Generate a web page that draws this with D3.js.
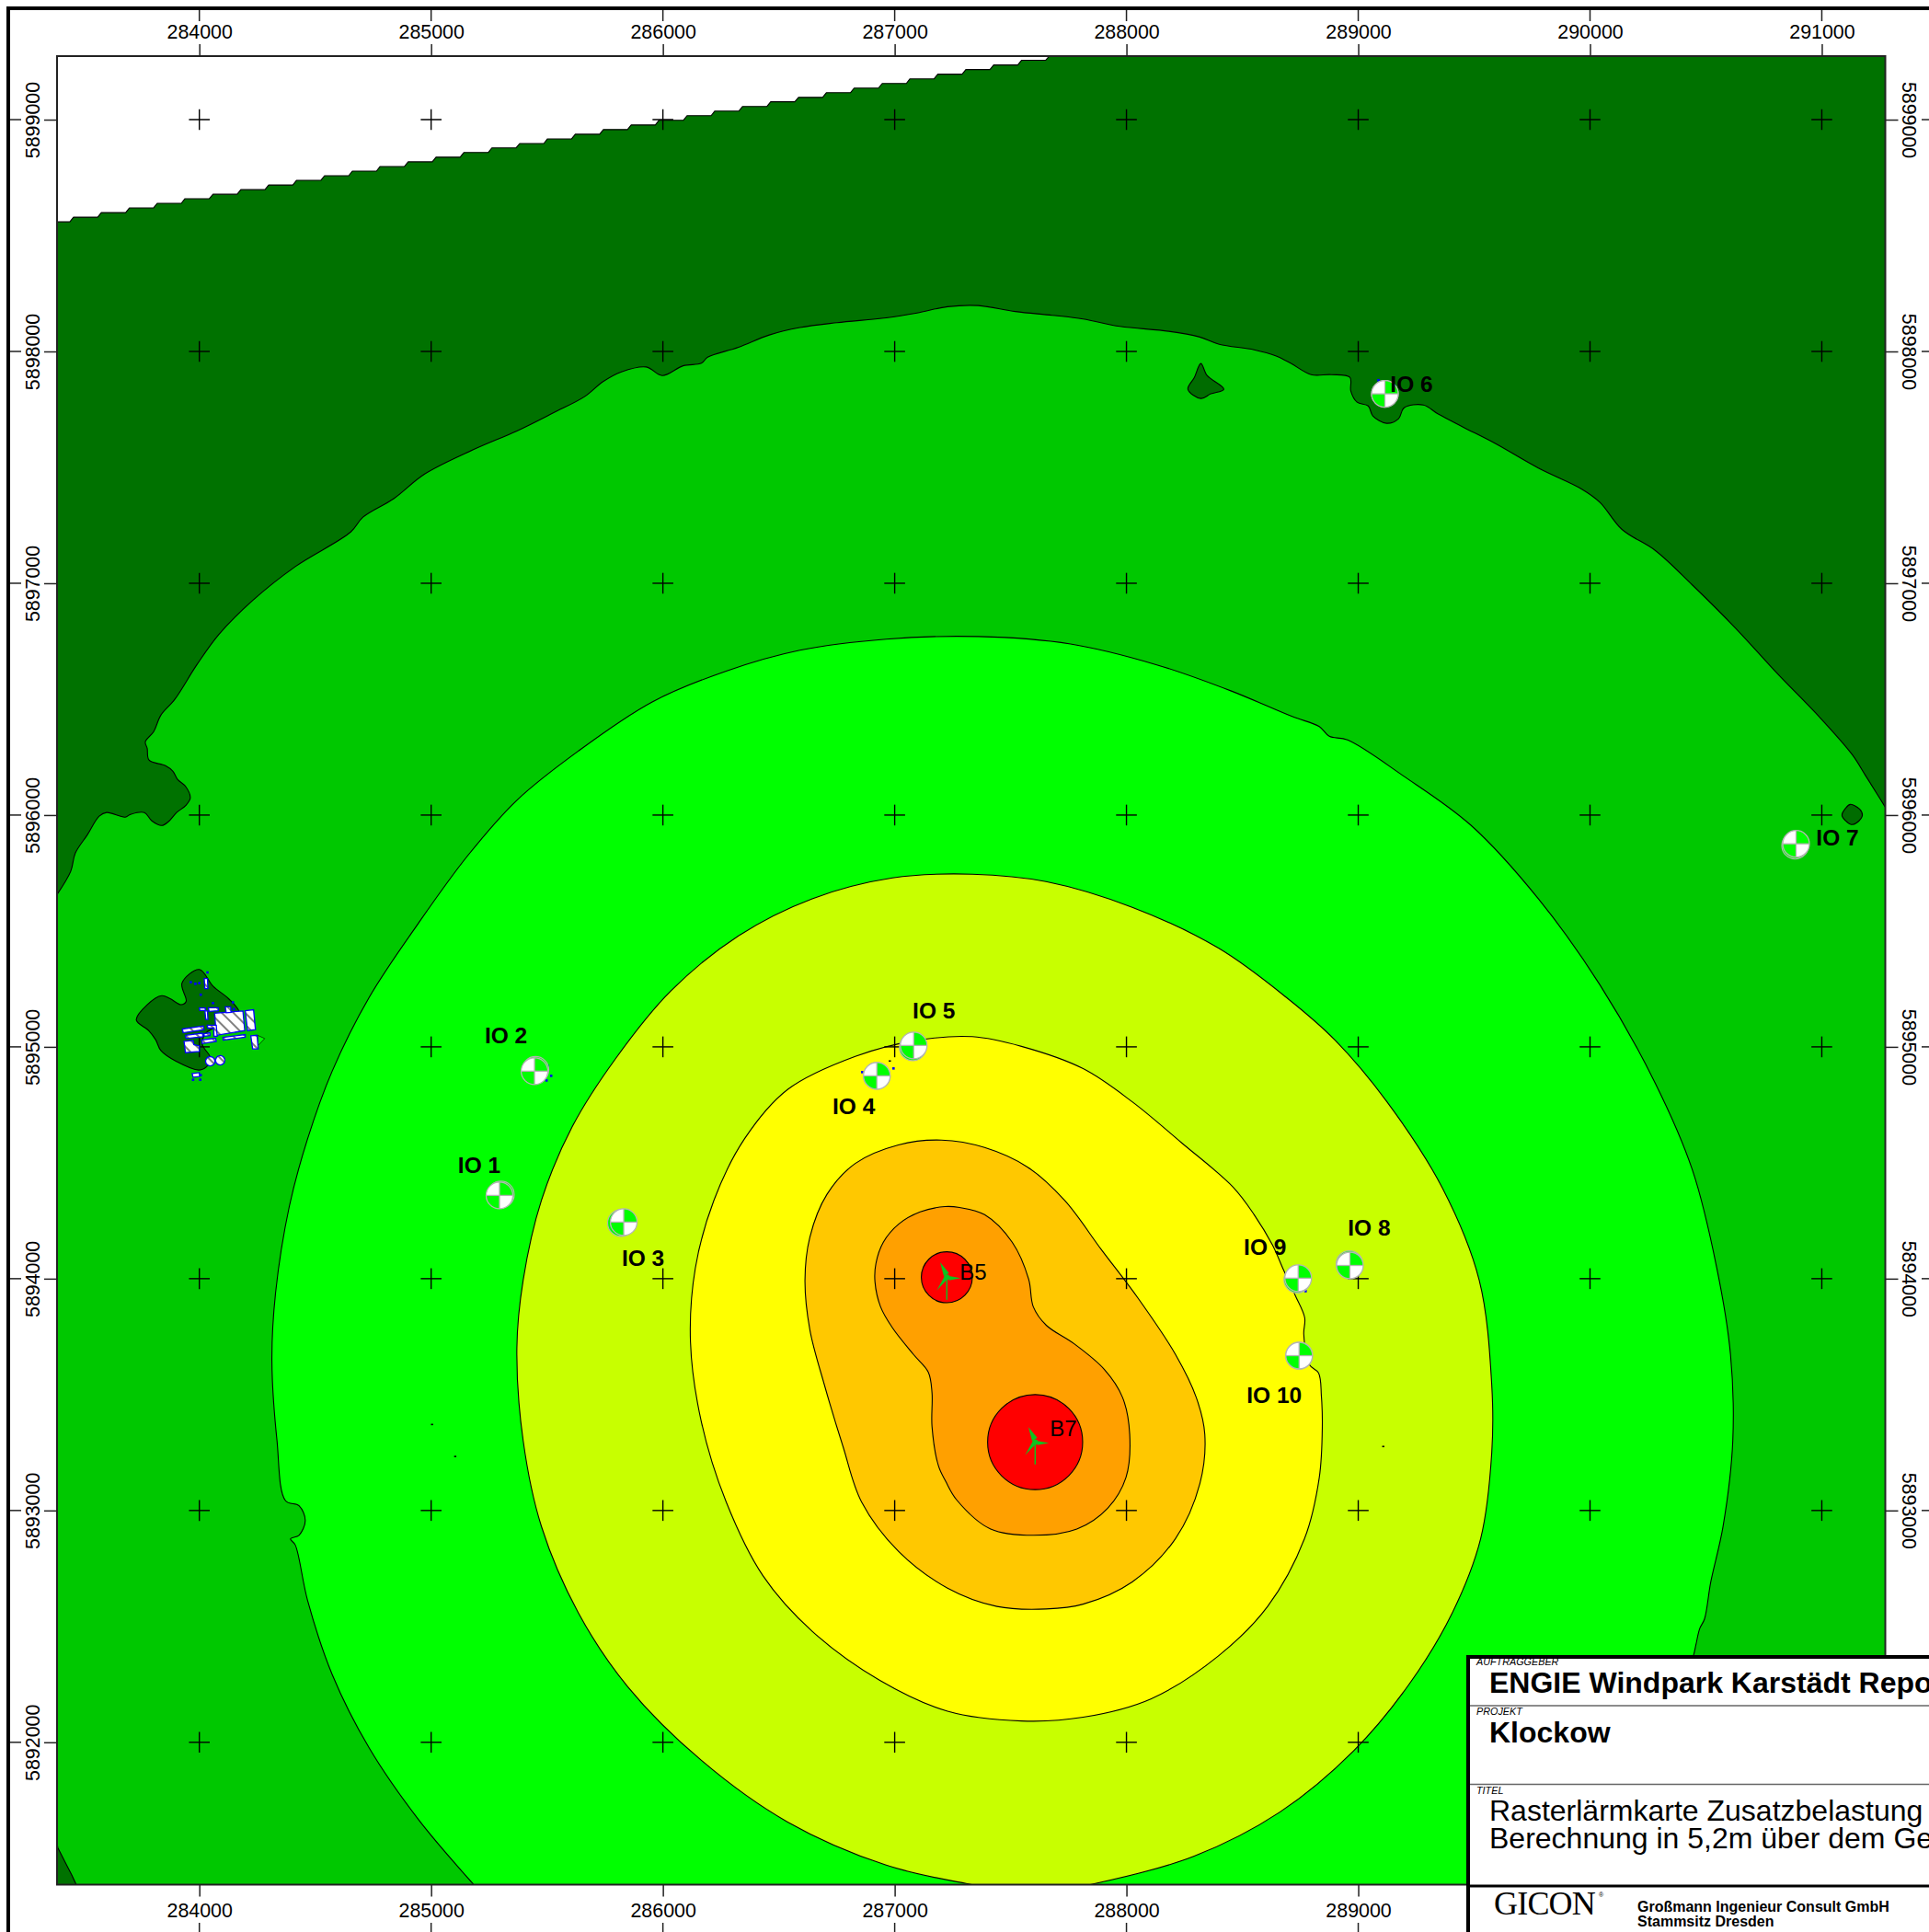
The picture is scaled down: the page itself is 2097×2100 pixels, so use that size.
<!DOCTYPE html>
<html><head><meta charset="utf-8">
<script src="https://cdn.jsdelivr.net/npm/d3@7"></script>
<style>html,body{margin:0;padding:0;background:#fff;overflow:hidden}svg{display:block}text{font-family:"Liberation Sans",Arial,sans-serif;fill:#000}</style>
</head><body><div id="c"></div>
<script>
// Map extent and tick values (metres, UTM)
const eastingExtent=[283386,291274];
const northingExtent=[5899274,5891386];
const eastingTicks=[284000,285000,286000,287000,288000,289000,290000,291000];
const northingTicks=[5892000,5893000,5894000,5895000,5896000,5897000,5898000,5899000];
const bottomEastingTicks=[284000,285000,286000,287000,288000,289000];
const rightNorthingTicks=[5893000,5894000,5895000,5896000,5897000,5898000,5899000];
const bandColors={outer:"#007200",patch:"#006c00",c1:"#00c800",c2:"#00ff00",c3:"#c8ff00",c4:"#ffff00",c5:"#ffc800",c6:"#ffa000",c7:"#ff0000"};

// Stair-stepped edge of the calculated area: start of each step
const calcEdgeSteps=[[283386,5898559],[283457,5898579],[283577,5898599],[283698,5898619],[283818,5898639],[283938,5898659],[284059,5898678],[284179,5898698],[284299,5898718],[284419,5898738],[284540,5898758],[284660,5898778],[284780,5898798],[284901,5898818],[285021,5898838],[285141,5898858],[285262,5898878],[285382,5898897],[285502,5898917],[285622,5898937],[285743,5898957],[285863,5898977],[285983,5898997],[286104,5899017],[286224,5899037],[286344,5899057],[286465,5899077],[286585,5899096],[286705,5899116],[286825,5899136],[286946,5899156],[287066,5899176],[287186,5899196],[287307,5899216],[287427,5899236],[287547,5899256],[287667,5899274]];

// Isophone contours
const contour1=[[283386,5895657],[283445,5895757],[283465,5895836],[283517,5895915],[283568,5895995],[283600,5896011],[283680,5895991],[283703,5896003],[283763,5896011],[283795,5895975],[283838,5895955],[283866,5895971],[283902,5896011],[283942,5896042],[283961,5896074],[283942,5896122],[283906,5896154],[283886,5896189],[283854,5896213],[283783,5896237],[283775,5896288],[283767,5896316],[283803,5896360],[283834,5896431],[283894,5896499],[283989,5896648],[284085,5896780],[284228,5896924],[284414,5897072],[284653,5897221],[284706,5897285],[284839,5897365],[284972,5897471],[285184,5897577],[285370,5897657],[285529,5897736],[285662,5897805],[285742,5897870],[285821,5897912],[285928,5897933],[285997,5897896],[286087,5897938],[286166,5897949],[286193,5897975],[286326,5898018],[286459,5898071],[286591,5898103],[286751,5898124],[286963,5898145],[287096,5898166],[287228,5898193],[287361,5898198],[287521,5898172],[287680,5898156],[287813,5898140],[287972,5898108],[288182,5898087],[288313,5898063],[288400,5898031],[288551,5898007],[288646,5897980],[288710,5897948],[288797,5897900],[288884,5897900],[288964,5897888],[288968,5897829],[288995,5897781],[289043,5897765],[289063,5897722],[289122,5897690],[289174,5897710],[289198,5897757],[289281,5897769],[289345,5897730],[289452,5897674],[289591,5897603],[289777,5897497],[289963,5897407],[290043,5897349],[290138,5897232],[290282,5897141],[290441,5896993],[290627,5896807],[290813,5896605],[290988,5896425],[291131,5896261],[291187,5896173],[291239,5896090],[291274,5896034]];
const contour1Corner=[[283469,5891386],[283449,5891429],[283430,5891465],[283390,5891544],[283386,5891560]];
const contour2=[[285184,5891386],[284945,5891667],[284733,5891975],[284573,5892293],[284467,5892612],[284414,5892851],[284393,5892878],[284430,5892893],[284457,5892957],[284430,5893021],[284372,5893042],[284335,5893302],[284313,5893648],[284329,5893940],[284388,5894311],[284467,5894603],[284573,5894895],[284733,5895214],[284945,5895533],[285158,5895825],[285370,5896064],[285635,5896276],[285954,5896488],[286273,5896621],[286591,5896711],[286963,5896759],[287361,5896770],[287759,5896738],[288131,5896648],[288450,5896536],[288715,5896425],[288832,5896382],[288875,5896340],[288954,5896324],[289193,5896170],[289485,5895957],[289777,5895639],[290043,5895267],[290282,5894842],[290441,5894471],[290547,5894046],[290606,5893674],[290616,5893302],[290574,5892931],[290521,5892692],[290494,5892532],[290473,5892490],[290457,5892421],[290446,5892373],[290308,5891975],[289990,5891386]];
const contour3=[[285370,5893701],[285397,5893993],[285476,5894338],[285609,5894656],[285795,5894948],[286034,5895241],[286326,5895479],[286644,5895639],[286990,5895729],[287335,5895745],[287653,5895713],[288025,5895602],[288397,5895426],[288689,5895214],[288901,5895028],[289124,5894763],[289363,5894391],[289522,5893993],[289576,5893541],[289576,5893249],[289528,5892878],[289406,5892559],[289220,5892251],[288981,5891964],[288662,5891699],[288290,5891508],[287866,5891391],[287600,5891348],[287308,5891391],[286963,5891470],[286538,5891656],[286166,5891922],[285848,5892240],[285635,5892559],[285476,5892931],[285397,5893302]];
const contour4=[[286119,5893727],[286140,5894046],[286220,5894338],[286352,5894603],[286538,5894816],[286830,5894959],[287096,5895028],[287335,5895044],[287547,5895002],[287813,5894906],[288025,5894763],[288237,5894587],[288460,5894395],[288551,5894276],[288630,5894145],[288678,5894037],[288729,5893926],[288769,5893831],[288765,5893760],[288789,5893629],[288829,5893593],[288841,5893494],[288845,5893363],[288832,5893143],[288768,5892878],[288609,5892586],[288397,5892373],[288105,5892187],[287813,5892108],[287547,5892092],[287228,5892134],[286936,5892267],[286644,5892479],[286432,5892718],[286273,5893037],[286166,5893382]];
const contour5=[[286613,5893993],[286634,5894179],[286708,5894364],[286830,5894497],[287016,5894577],[287202,5894598],[287388,5894566],[287574,5894481],[287733,5894338],[287892,5894125],[288052,5893913],[288211,5893674],[288301,5893488],[288338,5893329],[288317,5893117],[288211,5892878],[288025,5892692],[287813,5892596],[287653,5892575],[287441,5892586],[287228,5892665],[287016,5892824],[286857,5893037],[286777,5893276],[286697,5893541],[286634,5893780]];
const contour6=[[287217,5894311],[287280,5894307],[287388,5894276],[287507,5894157],[287578,5893998],[287598,5893879],[287654,5893799],[287773,5893720],[287904,5893609],[287983,5893488],[288014,5893329],[287998,5893143],[287919,5893010],[287786,5892920],[287600,5892893],[287414,5892920],[287268,5893045],[287221,5893124],[287189,5893192],[287161,5893363],[287161,5893509],[287145,5893597],[287082,5893672],[286991,5893787],[286939,5893879],[286915,5893986],[286919,5894065],[286951,5894157],[287018,5894236],[287110,5894288]];
const darkPatchNorth=[[288321,5897948],[288348,5897896],[288420,5897837],[288364,5897817],[288321,5897797],[288265,5897837],[288293,5897888]];
const darkPatchEast=[[291123,5896046],[291163,5896026],[291175,5895999],[291151,5895967],[291127,5895959],[291103,5895975],[291087,5895999],[291103,5896030]];
const darkPatchVillage=[[284000,5895334],[284060,5895261],[284126,5895208],[284172,5895149],[284145,5895116],[284066,5895083],[284026,5895057],[284013,5895010],[284046,5894957],[284040,5894924],[284000,5894900],[283901,5894937],[283834,5894984],[283812,5895030],[283782,5895070],[283728,5895116],[283775,5895182],[283838,5895221],[283874,5895208],[283921,5895182],[283943,5895196],[283925,5895275]];

// Turbines
const turbineNames=["B5","B7"];
const turbineSites=[[287225,5894006],[287606,5893295]];
const peakRadiusMetres=[110,205];
// Receptors
const receptorNames=["IO 1","IO 2","IO 3","IO 4","IO 5","IO 6","IO 7","IO 8","IO 9","IO 10"];
const receptorSites=[[285295,5894359],[285446,5894895],[285831,5894244],[286923,5894875],[287082,5895006],[289115,5897817],[290889,5895876],[288964,5894057],[288741,5894002],[288745,5893668]];
// Buildings in the village
const buildings=[
[[284066,5895145],[284188,5895155],[284196,5895070],[284073,5895050]],
[[284198,5895156],[284234,5895160],[284242,5895074],[284208,5895070]],
[[283927,5895077],[284017,5895090],[284020,5895074],[283930,5895061]],
[[283940,5895050],[284013,5895059],[284016,5895044],[283943,5895036]],
[[283934,5895024],[283973,5895028],[283976,5895010],[284000,5895004],[284000,5894980],[283940,5894975]],
[[284010,5895030],[284070,5895037],[284073,5895024],[284013,5895014]],
[[284020,5895057],[284046,5895061],[284046,5895049],[284021,5895046]],
[[284102,5895041],[284198,5895053],[284198,5895042],[284103,5895029]],
[[284222,5895048],[284249,5895050],[284254,5894991],[284230,5894991]],
[[284021,5895295],[284035,5895295],[284037,5895251],[284024,5895251]],
[[284000,5895168],[284026,5895168],[284026,5895157],[284002,5895157]],
[[284039,5895169],[284082,5895169],[284082,5895156],[284042,5895153]],
[[284024,5895155],[284035,5895155],[284037,5895118],[284028,5895118]],
[[284112,5895173],[284135,5895173],[284137,5895149],[284116,5895147]],
[[283969,5894885],[284000,5894889],[284001,5894872],[283973,5894869]],
[[284034,5895093],[284073,5895093],[284077,5895046],[284063,5895046],[284062,5895081],[284037,5895081]]];
const silos=[[284047,5894938],[284090,5894942]];
const siloRadiusMetres=20;
const greenWedge=[[284251,5895050],[284282,5895036],[284254,5895007]];
const blueSpecks=[[283963,5895279],[283983,5895272],[284000,5895275],[284006,5895225],[284059,5895189],[284145,5895192],[284149,5895163],[283973,5894858],[284004,5894858],[284006,5894878],[284035,5895321],[285518,5894875],[285502,5894919],[285498,5894855],[286995,5894907],[286860,5894891],[288773,5893946],[289087,5897876]];
const blackSpecks=[[286979,5894939],[285004,5893371],[285104,5893233],[289108,5893276]];
// Label text
const boxCaptions=["AUFTRAGGEBER","PROJEKT","TITEL"];
const boxClient="ENGIE Windpark Karstädt Repo";
const boxProject="Klockow";
const boxTitle=["Rasterlärmkarte Zusatzbelastung","Berechnung in 5,2m über dem Ge"];
const boxCompany=["Großmann Ingenieur Consult GmbH","Stammsitz Dresden"];

const W=2097,H=2100;
const plot={l:62,t:61,r:2049.5,b:2048.5};
const x=d3.scaleLinear().domain(eastingExtent).range([plot.l,plot.r]);
const y=d3.scaleLinear().domain(northingExtent).range([plot.t,plot.b]);
const px=d=>[x(d[0]),y(d[1])];
const svg=d3.select("#c").append("svg").attr("width",W).attr("height",H).attr("viewBox",`0 0 ${W} ${H}`);
const defs=svg.append("defs");
defs.append("clipPath").attr("id","plotClip").append("rect").attr("x",plot.l).attr("y",plot.t).attr("width",plot.r-plot.l).attr("height",plot.b-plot.t);
const pat=defs.append("pattern").attr("id","hatch").attr("patternUnits","userSpaceOnUse").attr("width",9).attr("height",9).attr("patternTransform","rotate(-45)");
pat.append("rect").attr("width",9).attr("height",9).attr("fill","#fff");
pat.append("line").attr("x1",4).attr("x2",4).attr("y1",0).attr("y2",9).attr("stroke","#000").attr("stroke-width",1);

const smoothOpen=d3.line().x(d=>x(d[0])).y(d=>y(d[1])).curve(d3.curveCatmullRom.alpha(0.5));
const smoothClosed=d3.line().x(d=>x(d[0])).y(d=>y(d[1])).curve(d3.curveCatmullRomClosed.alpha(0.5));
const straightClosed=d3.line().x(d=>x(d[0])).y(d=>y(d[1])).curve(d3.curveLinearClosed);
const plotArea=svg.append("g").attr("clip-path","url(#plotClip)");
const stroke={stroke:"#000","stroke-width":1.1,"stroke-linejoin":"round"};
function band(pathD,fill){const p=plotArea.append("path").attr("d",pathD).attr("fill",fill);Object.entries(stroke).forEach(([k,v])=>p.attr(k,v));return p;}

// Outer band with stair-stepped top
const stepRise=16;
const stairs=[];
calcEdgeSteps.forEach((s,i)=>{stairs.push(s);const n=calcEdgeSteps[i+1];if(n)stairs.push([n[0]-stepRise,s[1]]);});
band(d3.line().x(d=>x(d[0])).y(d=>y(d[1]))(stairs)+`L${plot.r},${plot.t}L${plot.r},${plot.b}L${plot.l},${plot.b}Z`,bandColors.outer);
// Medium green
band(smoothOpen(contour1)+`L${plot.r+5},${y(contour1[contour1.length-1][1])}L${plot.r+5},${plot.b+5}`+"L"+contour1Corner.map(px).join("L")+`L${plot.l-5},${plot.b-50}L${plot.l-5},${y(contour1[0][1])}Z`,bandColors.c1);
band(smoothClosed(darkPatchNorth),bandColors.patch);
band(smoothClosed(darkPatchEast),bandColors.patch);
band(smoothClosed(darkPatchVillage),bandColors.patch);
band(smoothOpen(contour2)+`L${x(contour2[0][0])},${plot.b+5}Z`,bandColors.c2);
band(smoothClosed(contour3),bandColors.c3);
band(smoothClosed(contour4),bandColors.c4);
band(smoothClosed(contour5),bandColors.c5);
band(smoothClosed(contour6),bandColors.c6);
turbineSites.forEach((s,i)=>{
  plotArea.append("ellipse").attr("cx",x(s[0])).attr("cy",y(s[1]))
   .attr("rx",x(s[0]+peakRadiusMetres[i])-x(s[0])).attr("ry",y(s[1]-peakRadiusMetres[i])-y(s[1]))
   .attr("fill",bandColors.c7).attr("stroke","#000").attr("stroke-width",1.1);
});
// Grid crosses
const cross=plotArea.append("g").attr("stroke","#000").attr("stroke-width",1.4);
const crossHalf=11.3;
eastingTicks.forEach(e=>northingTicks.forEach(n=>{
  cross.append("line").attr("x1",x(e)-crossHalf).attr("x2",x(e)+crossHalf).attr("y1",y(n)).attr("y2",y(n));
  cross.append("line").attr("x1",x(e)).attr("x2",x(e)).attr("y1",y(n)-crossHalf).attr("y2",y(n)+crossHalf);
}));
// Village
const village=plotArea.append("g");
village.append("path").attr("d",straightClosed(greenWedge)).attr("fill","#00ff00").attr("stroke","#004a00").attr("stroke-width",1);
village.selectAll("path.b").data(buildings).join("path").attr("class","b").attr("d",d=>straightClosed(d)).attr("fill","url(#hatch)").attr("stroke","#0000ff").attr("stroke-width",1.3);
village.selectAll("circle.s").data(silos).join("circle").attr("class","s").attr("cx",d=>x(d[0])).attr("cy",d=>y(d[1])).attr("r",x(283386+siloRadiusMetres)-x(283386)).attr("fill","url(#hatch)").attr("stroke","#0000ff").attr("stroke-width",1.3);
plotArea.selectAll("rect.bs").data(blueSpecks).join("rect").attr("class","bs").attr("x",d=>x(d[0])-1.3).attr("y",d=>y(d[1])-1.3).attr("width",2.6).attr("height",2.6).attr("fill","#0000ff");
plotArea.selectAll("rect.ks").data(blackSpecks).join("rect").attr("class","ks").attr("x",d=>x(d[0])-1.2).attr("y",d=>y(d[1])-.8).attr("width",2.4).attr("height",1.6).attr("fill","#000");

// Turbines
const bladeColor="#0cc420";
turbineSites.forEach((s,i)=>{
  const g=plotArea.append("g").attr("transform",`translate(${x(s[0])},${y(s[1])})`);
  g.append("line").attr("x1",0).attr("x2",0).attr("y1",0).attr("y2",24.3).attr("stroke",bladeColor).attr("stroke-width",1.4);
  ["M-7.3,-16.3L2.3,-4.7L-3.3,-1.3Z","M15,1L2.3,-1.3L2.3,3.3Z","M-11,14.3L-2.3,-1.3L0,2.7Z"].forEach(b=>g.append("path").attr("d",b).attr("fill",bladeColor));
  g.append("circle").attr("r",3).attr("fill",bladeColor);
});
const turbineLabelOffset=[[14,3],[16,-6]];
turbineSites.forEach((s,i)=>svg.append("text").attr("x",x(s[0])+turbineLabelOffset[i][0]).attr("y",y(s[1])+turbineLabelOffset[i][1]).attr("font-size",24).text(turbineNames[i]));

// Receptors
const ioR=14.5;
const quad=d3.arc().innerRadius(0).outerRadius(ioR);
const ioGhost=[[1.5,-1],[1,-1.5],[-3,1],[0,0],[-1,2],[0,0],[-1,2],[-.5,-1.5],[-1,1.5],[0,0]];
const ioLabelOffset=[[-22,-24],[-31,-30],[21,48],[-25,42],[22,-29],[29,-2],[45,2],[21,-33],[-36,-25],[-27,51]];
receptorSites.forEach((s,i)=>{
  const g=svg.append("g").attr("transform",`translate(${x(s[0])},${y(s[1])})`);
  g.append("circle").attr("cx",ioGhost[i][0]).attr("cy",ioGhost[i][1]).attr("r",ioR).attr("fill","#00ff00").attr("stroke","#b4b4b4").attr("stroke-width",1.1);
  g.append("circle").attr("r",ioR).attr("fill","#fff");
  g.append("path").attr("d",quad({startAngle:0,endAngle:Math.PI/2})).attr("fill","#00ff00");
  g.append("path").attr("d",quad({startAngle:Math.PI,endAngle:Math.PI*1.5})).attr("fill","#00ff00");
  g.append("circle").attr("r",ioR).attr("fill","none").attr("stroke","#b4b4b4").attr("stroke-width",1.3);
  g.append("line").attr("x1",-ioR).attr("x2",ioR).attr("y1",0).attr("y2",0).attr("stroke","#b4b4b4").attr("stroke-width",1.3);
  g.append("line").attr("x1",0).attr("x2",0).attr("y1",-ioR).attr("y2",ioR).attr("stroke","#b4b4b4").attr("stroke-width",1.3);
  svg.append("text").attr("x",x(s[0])+ioLabelOffset[i][0]).attr("y",y(s[1])+ioLabelOffset[i][1]).attr("text-anchor","middle").attr("font-weight","bold").attr("font-size",24.5).text(receptorNames[i]);
});

// Plot frame
svg.append("rect").attr("x",plot.l).attr("y",plot.t).attr("width",plot.r-plot.l).attr("height",plot.b-plot.t).attr("fill","none").attr("stroke","#222").attr("stroke-width",2);

// Axes
const tickStyle=(g)=>{g.select(".domain").remove();g.selectAll(".tick line").attr("stroke","#222").attr("stroke-width",1.5);g.selectAll("text").attr("font-size",21.4).attr("font-family","Liberation Sans").attr("fill","#000");};
const fmt=d=>String(d);
svg.append("g").attr("transform",`translate(0,${plot.t})`).call(d3.axisTop(x).tickValues(eastingTicks).tickFormat(fmt).tickSize(13).tickPadding(6)).call(tickStyle);
svg.append("g").attr("transform",`translate(0,${plot.b})`).call(d3.axisBottom(x).tickValues(bottomEastingTicks).tickFormat(fmt).tickSize(13)).call(tickStyle).call(g=>g.selectAll("text").attr("y",35.5).attr("dy",0));
svg.append("g").attr("transform",`translate(${plot.l},0)`).call(d3.axisLeft(y).tickValues(northingTicks).tickFormat(fmt).tickSize(14)).call(tickStyle).call(g=>g.selectAll("text").attr("transform","rotate(-90)").attr("x",0).attr("y",-19).attr("dy",0).attr("text-anchor","middle"));
svg.append("g").attr("transform",`translate(${plot.r},0)`).call(d3.axisRight(y).tickValues(rightNorthingTicks).tickFormat(fmt).tickSize(14)).call(tickStyle).call(g=>g.selectAll("text").attr("transform","rotate(90)").attr("x",0).attr("y",-18.5).attr("dy",0).attr("text-anchor","middle"));
// Outer tick stubs
const stubs=svg.append("g").attr("stroke","#222").attr("stroke-width",1.5);
eastingTicks.forEach(e=>stubs.append("line").attr("x1",x(e)).attr("x2",x(e)).attr("y1",10).attr("y2",23));
bottomEastingTicks.forEach(e=>stubs.append("line").attr("x1",x(e)).attr("x2",x(e)).attr("y1",2090).attr("y2",H));
northingTicks.forEach(n=>stubs.append("line").attr("y1",y(n)).attr("y2",y(n)).attr("x1",10).attr("x2",23));
rightNorthingTicks.forEach(n=>stubs.append("line").attr("y1",y(n)).attr("y2",y(n)).attr("x1",2089).attr("x2",W));
// Sheet border
const sheet=svg.append("g").attr("stroke","#000").attr("stroke-width",4);
sheet.append("line").attr("x1",9).attr("x2",W).attr("y1",9).attr("y2",9);
sheet.append("line").attr("x1",9).attr("x2",9).attr("y1",7).attr("y2",H);

// Title box
const box={l:1596,t:1801,r1:1854,r2:1939.5,b:2050};
svg.append("rect").attr("x",box.l).attr("y",box.t).attr("width",W-box.l+5).attr("height",H-box.t+5).attr("fill","#fff");
svg.append("line").attr("x1",box.l).attr("x2",W).attr("y1",box.r1).attr("y2",box.r1).attr("stroke","#666").attr("stroke-width",1.5);
svg.append("line").attr("x1",box.l).attr("x2",W).attr("y1",box.r2).attr("y2",box.r2).attr("stroke","#666").attr("stroke-width",1.5);
svg.append("line").attr("x1",box.l).attr("x2",W).attr("y1",box.b).attr("y2",box.b).attr("stroke","#000").attr("stroke-width",3);
svg.append("line").attr("x1",box.l).attr("x2",W).attr("y1",box.t).attr("y2",box.t).attr("stroke","#000").attr("stroke-width",4);
svg.append("line").attr("x1",box.l).attr("x2",box.l).attr("y1",box.t-2).attr("y2",H).attr("stroke","#000").attr("stroke-width",4);
[[1810],[1864],[1950]].forEach((p,i)=>svg.append("text").attr("x",1605).attr("y",p[0]).attr("font-size",10.8).attr("font-style","italic").attr("fill","#111").text(boxCaptions[i]));
svg.append("text").attr("x",1619).attr("y",1840).attr("font-size",32).attr("font-weight","bold").text(boxClient);
svg.append("text").attr("x",1619).attr("y",1894).attr("font-size",32).attr("font-weight","bold").text(boxProject);
svg.append("text").attr("x",1619).attr("y",1979).attr("font-size",32).text(boxTitle[0]);
svg.append("text").attr("x",1619).attr("y",2009).attr("font-size",32).text(boxTitle[1]);
svg.append("text").attr("x",1624).attr("y",2081).attr("font-size",36).attr("letter-spacing",-0.8).style("font-family","Liberation Serif").text("GICON");
svg.append("text").attr("x",1738).attr("y",2062).attr("font-size",7).text("®");
svg.append("text").attr("x",1780).attr("y",2078).attr("font-size",16).attr("font-weight","bold").text(boxCompany[0]);
svg.append("text").attr("x",1780).attr("y",2094).attr("font-size",16).attr("font-weight","bold").text(boxCompany[1]);
</script></body></html>
